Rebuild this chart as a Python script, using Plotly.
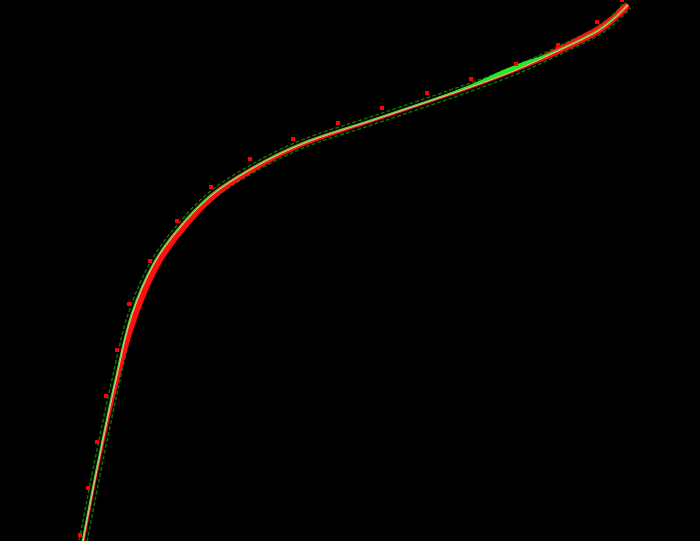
import numpy as np
import plotly.graph_objects as go

obs_x = [80, 88, 97, 106, 117, 129, 150, 177, 211, 250, 293, 338, 382, 427, 471, 516, 558, 597, 622]
obs_y = [6, 53, 99, 145, 191, 237, 280, 320, 354, 382, 402, 418, 433, 448, 462, 477, 496, 519, 541]

fit_x = [82, 99, 116, 132, 154, 179, 211, 250, 300, 380, 471, 516, 558, 598, 614, 628]
fit_y = [-6, 81, 161, 226, 277, 312, 345, 371, 396, 423, 454, 471, 490, 510, 522, 536]

# band half-widths above (upper-left) and below (lower-right) the fit
band_hi = [1, 1, 1, 1, 1.5, 2, 2, 2, 2, 1.5, 1.5, 1.5, 3.5, 4.5, 4, 3]
band_lo = [1.5, 1.5, 3, 6, 6, 5.5, 4.5, 3.5, 2.5, 1.5, 1.5, 1.5, 3, 3, 2.5, 2]
green_hi = [0, 0, 0, 0, 0, 0, 0, 0, 0, 0, 2.5, 5, 1, 0, 0, 0]

px = np.array(fit_x, float)
py = np.array(fit_y, float)
tx = np.gradient(px)
ty = np.gradient(py)
nrm = np.hypot(tx, ty)
nx, ny = -ty / nrm, tx / nrm


def offset(d):
    d = np.asarray(d, float)
    return px + nx * d, py + ny * d


def band(hi, lo):
    ux, uy = offset(hi)
    lx, ly = offset(-np.asarray(lo, float))
    return np.concatenate([ux, lx[::-1]]), np.concatenate([uy, ly[::-1]])


fig = go.Figure()

for s in (4.0, -4.0):
    ox, oy = offset(np.full(len(px), s))
    fig.add_trace(go.Scatter(x=ox, y=oy, mode="lines", line=dict(color="#0a6e0a", width=1.5, dash="4px,2px", shape="spline"), hoverinfo="skip"))

bx, by = band(band_hi, band_lo)
fig.add_trace(go.Scatter(x=bx, y=by, mode="lines", fill="toself", fillcolor="#ff1010", line=dict(width=0, shape="spline"), hoverinfo="skip"))

gx, gy = band(green_hi, [0.3] * len(px))
fig.add_trace(go.Scatter(x=gx, y=gy, mode="lines", fill="toself", fillcolor="#22ee22", line=dict(width=0, shape="spline"), hoverinfo="skip"))

ox, oy = offset(np.full(len(px), 0.8))
fig.add_trace(go.Scatter(x=ox, y=oy, mode="lines", line=dict(color="#33dd22", width=1.5, shape="spline"), hoverinfo="skip"))
fig.add_trace(go.Scatter(x=px, y=py, mode="lines", line=dict(color="#ffb0a0", width=1, shape="spline"), hoverinfo="skip"))

fig.add_trace(go.Scatter(x=obs_x, y=obs_y, mode="markers", marker=dict(symbol="square", size=4, color="#ff0000", line=dict(width=0))))

fig.update_layout(
    width=700, height=541, margin=dict(l=0, r=0, t=0, b=0),
    paper_bgcolor="#000000", plot_bgcolor="#000000", showlegend=False,
    xaxis=dict(range=[0, 700], visible=False, fixedrange=True),
    yaxis=dict(range=[0, 541], visible=False, fixedrange=True),
)
fig.write_html(
    "out.html",
    config={"displayModeBar": False},
    post_script="document.body.style.margin='0';document.body.style.background='#000';",
)
